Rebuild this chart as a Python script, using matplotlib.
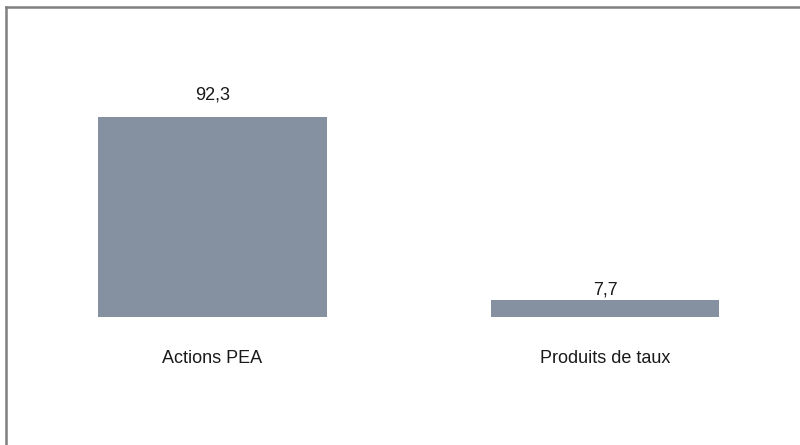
import matplotlib
matplotlib.use("Agg")
import matplotlib.pyplot as plt
from matplotlib.lines import Line2D

categories = ["Actions PEA", "Produits de taux"]
values = [92.3, 7.7]
value_labels = ["92,3", "7,7"]

plt.rcParams['font.family'] = ['Liberation Sans', 'DejaVu Sans']

W, H = 800, 445
fig = plt.figure(figsize=(W / 100, H / 100), dpi=100)

# axes bottom sits on bar bottom (y=317 px from top)
bottom_px = H - 317
ax = fig.add_axes([0, bottom_px / H, 1, (H - bottom_px) / H])
ax.set_xlim(-212.5 / 392.5, (W - 212.5) / 392.5)
ax.set_ylim(0, (H - bottom_px) / 200 * 92.3)
ax.axis("off")

x = list(range(len(categories)))
ax.bar(x, values, width=0.583, color="#8590a0", zorder=3)

label_gap = [17, 6]  # pixels between baseline and bar top
for i, v in enumerate(values):
    ax.annotate(value_labels[i], (x[i], v), xytext=(0, label_gap[i]),
                textcoords="offset pixels", ha="center", va="baseline",
                fontsize=13, color="#1a1a1a", zorder=2)
    ax.annotate(categories[i], (x[i], 0), xytext=(0, -46),
                textcoords="offset pixels", ha="center", va="baseline",
                fontsize=13, color="#1a1a1a")

# frame on top and left
fig.add_artist(Line2D([6 / W, 6 / W], [0, 1 - 6.5 / H], color="#808080", lw=1.8,
                      transform=fig.transFigure))
fig.add_artist(Line2D([6 / W, 1], [1 - 6.5 / H, 1 - 6.5 / H], color="#808080", lw=1.8,
                      transform=fig.transFigure))

fig.savefig("out.png", dpi=100)
